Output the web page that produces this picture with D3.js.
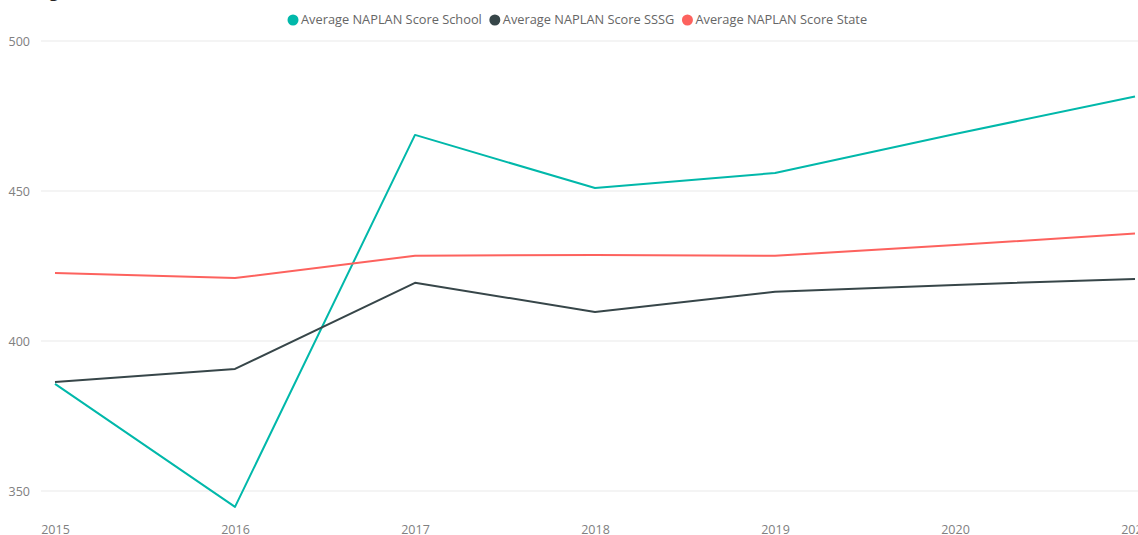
<!DOCTYPE html>
<html><head><meta charset="utf-8">
<script src="https://cdn.jsdelivr.net/npm/d3@7"></script>
<style>body{margin:0;background:#fff;} svg{display:block;}</style>
</head><body>
<svg id="c" width="1138" height="535"></svg>
<script>
const years = [2015, 2016, 2017, 2018, 2019, 2020, 2021];
const school = [385.7, 344.7, 468.7, 451.0, 456.0, 469.0, 481.5];
const sssg = [386.3, 390.7, 419.4, 409.7, 416.4, 418.7, 420.7];
const state = [422.7, 421.0, 428.4, 428.7, 428.4, 432.0, 435.8];
const seriesNames = ["Average NAPLAN Score School", "Average NAPLAN Score SSSG", "Average NAPLAN Score State"];
const colors = ["#01B8AA", "#374649", "#FD625E"];
const yTicks = [350, 400, 450, 500];

const svg = d3.select("#c");
const font = "'Open Sans', 'DejaVu Sans', sans-serif";
const x = d3.scaleLinear().domain([2015, 2021]).range([55, 1135]);
const y = d3.scaleLinear().domain([340, 500]).range([521, 41]);

// title, mostly cut off at the top edge as in the reference
svg.append("text").attr("x", 4).attr("y", -3).attr("font-family", font).attr("font-size", 17)
  .attr("fill", "#252423").text("Average NAPLAN Score School, SSSG and State");

// grid
svg.append("g").selectAll("line").data(yTicks).join("line")
  .attr("x1", 41).attr("x2", 1138).attr("y1", d => y(d)).attr("y2", d => y(d))
  .attr("stroke", "#e9e9e9").attr("stroke-width", 1);
const yAxis = d3.axisLeft(y).tickValues(yTicks).tickSize(0).tickPadding(0);
const gy = svg.append("g").attr("transform", "translate(30,0)").call(yAxis);
gy.select(".domain").remove();
gy.selectAll("text").attr("font-family", font).attr("font-size", 12.5).attr("fill", "#808080").attr("dy", "0.35em");

const xAxis = d3.axisBottom(x).tickValues(years).tickFormat(d3.format("d")).tickSize(0).tickPadding(0);
const gx = svg.append("g").attr("transform", "translate(0,525)").call(xAxis);
gx.select(".domain").remove();
gx.selectAll("text").attr("font-family", font).attr("font-size", 12.5).attr("fill", "#808080").attr("dy", "0.71em");

const line = d3.line().x((d, i) => x(years[i])).y(d => y(d));
[school, sssg, state].forEach((s, k) => {
  svg.append("path").datum(s).attr("d", line).attr("fill", "none")
    .attr("stroke", colors[k]).attr("stroke-width", 2).attr("stroke-linejoin", "round");
});

// legend
const lg = svg.append("g");
let lx = 293;
seriesNames.forEach((n, k) => {
  lg.append("circle").attr("cx", lx).attr("cy", 20).attr("r", 5.5).attr("fill", colors[k]);
  const t = lg.append("text").attr("x", lx + 8).attr("y", 20).attr("dy", "0.35em")
    .attr("font-family", font).attr("font-size", 12.8).attr("fill", "#666").text(n);
  lx += t.node().getComputedTextLength() + 21;
});
</script>
</body></html>
